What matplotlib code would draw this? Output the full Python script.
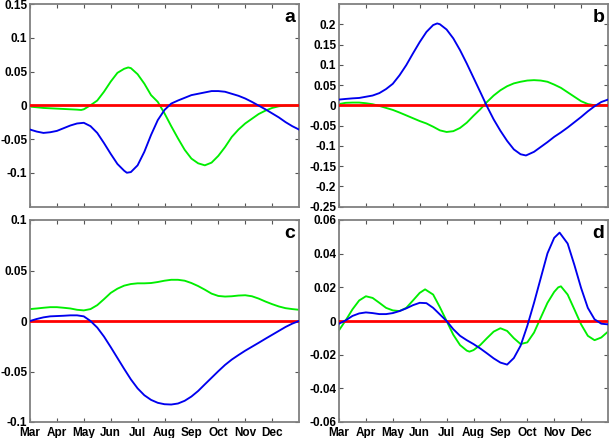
import matplotlib
matplotlib.use("Agg")
import matplotlib.pyplot as plt

plt.rcParams['font.family'] = ['Liberation Sans', 'DejaVu Sans']

months = ['Mar', 'Apr', 'May', 'Jun', 'Jul', 'Aug', 'Sep', 'Oct', 'Nov', 'Dec']

# Panel a
a_green_x = [0, 0.25, 0.5, 0.75, 1, 1.25, 1.5, 1.75, 1.9, 2, 2.25, 2.5, 2.75, 3, 3.25, 3.5, 3.65, 3.75, 4,
             4.25, 4.5, 4.75, 5, 5.25, 5.5, 5.75, 6, 6.25, 6.5, 6.75, 7, 7.25, 7.5, 7.75, 8, 8.25, 8.5,
             8.75, 9, 9.25, 9.5, 10]
a_green_y = [-0.002, -0.003, -0.004, -0.0045, -0.005, -0.0055, -0.006, -0.0065, -0.007, -0.006, 0.0, 0.007,
             0.020, 0.035, 0.048, 0.054, 0.056, 0.055, 0.046, 0.032, 0.015, 0.005, -0.012, -0.031, -0.049,
             -0.066, -0.079, -0.086, -0.089, -0.085, -0.075, -0.062, -0.047, -0.036, -0.027, -0.020, -0.013,
             -0.008, -0.004, -0.0015, -0.0005, -0.0005]
a_blue_x = [0, 0.25, 0.5, 0.75, 1, 1.25, 1.5, 1.75, 2, 2.25, 2.5, 2.75, 3, 3.25, 3.5, 3.6, 3.75, 4, 4.25,
            4.5, 4.75, 5, 5.25, 5.5, 5.75, 6, 6.25, 6.5, 6.75, 7, 7.25, 7.5, 7.75, 8, 8.25, 8.5, 8.75, 9,
            9.25, 9.5, 9.75, 10]
a_blue_y = [-0.036, -0.039, -0.041, -0.040, -0.038, -0.034, -0.030, -0.027, -0.026, -0.031, -0.041, -0.056,
            -0.072, -0.087, -0.097, -0.100, -0.099, -0.089, -0.069, -0.044, -0.022, -0.007, 0.0025, 0.007,
            0.011, 0.015, 0.017, 0.019, 0.021, 0.021, 0.020, 0.017, 0.014, 0.010, 0.005, -0.0005, -0.006,
            -0.012, -0.018, -0.025, -0.031, -0.036]

# Panel b
b_blue_x = [0, 0.25, 0.5, 0.75, 1, 1.25, 1.5, 1.75, 2, 2.25, 2.5, 2.75, 3, 3.25, 3.5, 3.65, 3.75, 4, 4.25,
            4.5, 4.75, 5, 5.25, 5.5, 5.75, 6, 6.25, 6.5, 6.75, 6.95, 7.25, 7.5, 7.75, 8, 8.25, 8.5, 8.75, 9,
            9.25, 9.5, 9.75, 10]
b_blue_y = [0.014, 0.0156, 0.017, 0.018, 0.021, 0.024, 0.030, 0.040, 0.053, 0.074, 0.099, 0.128, 0.156,
            0.181, 0.198, 0.202, 0.200, 0.187, 0.165, 0.136, 0.103, 0.068, 0.033, -0.0025, -0.035, -0.063,
            -0.088, -0.109, -0.121, -0.124, -0.115, -0.103, -0.091, -0.078, -0.067, -0.055, -0.042, -0.029,
            -0.015, -0.0025, 0.008, 0.014]
b_green_x = [0, 0.25, 0.5, 0.75, 1, 1.25, 1.5, 1.75, 2, 2.25, 2.5, 2.75, 3, 3.25, 3.5, 3.75, 4, 4.25, 4.5,
             4.75, 5, 5.25, 5.5, 5.75, 6, 6.25, 6.5, 6.75, 7, 7.25, 7.5, 7.75, 8, 8.25, 8.5, 8.75, 9, 9.25,
             9.5, 10]
b_green_y = [0.003, 0.006, 0.0066, 0.0066, 0.005, 0.0025, -0.0016, -0.0066, -0.0115, -0.018, -0.025,
             -0.032, -0.039, -0.045, -0.053, -0.062, -0.066, -0.064, -0.056, -0.043, -0.026, -0.010, 0.008,
             0.024, 0.037, 0.047, 0.054, 0.058, 0.061, 0.062, 0.061, 0.058, 0.051, 0.043, 0.032, 0.021,
             0.010, 0.003, 0.0, 0.0]

# Panel c
c_green_x = [0, 0.25, 0.5, 0.75, 1, 1.25, 1.5, 1.75, 2, 2.25, 2.5, 2.75, 3, 3.25, 3.5, 3.75, 4, 4.25, 4.5,
             4.75, 5, 5.25, 5.5, 5.75, 6, 6.25, 6.5, 6.75, 7, 7.25, 7.5, 7.75, 8, 8.25, 8.5, 8.75, 9, 9.25,
             9.5, 9.75, 10]
c_green_y = [0.0118, 0.0124, 0.0131, 0.0137, 0.0137, 0.0131, 0.0124, 0.0111, 0.0105, 0.0118, 0.0157,
             0.0216, 0.0278, 0.032, 0.035, 0.0366, 0.0373, 0.0373, 0.0376, 0.0386, 0.0399, 0.0408, 0.0408,
             0.0399, 0.0376, 0.0346, 0.031, 0.0271, 0.0248, 0.0242, 0.0245, 0.0252, 0.0255, 0.0245, 0.0222,
             0.0193, 0.0167, 0.0144, 0.0127, 0.0118, 0.0111]
c_blue_x = [0, 0.25, 0.5, 0.75, 1, 1.25, 1.5, 1.75, 2, 2.25, 2.5, 2.75, 3, 3.25, 3.5, 3.75, 4, 4.25, 4.5,
            4.75, 5, 5.25, 5.5, 5.75, 6, 6.25, 6.5, 6.75, 7, 7.25, 7.5, 7.75, 8, 8.25, 8.5, 8.75, 9, 9.25,
            9.5, 9.75, 10]
c_blue_y = [0.0, 0.002, 0.0036, 0.0046, 0.0049, 0.0052, 0.0056, 0.0056, 0.0046, 0.0, -0.0065, -0.0154,
            -0.0258, -0.0366, -0.0474, -0.0578, -0.0667, -0.0735, -0.0781, -0.081, -0.0824, -0.0827,
            -0.0817, -0.079, -0.0748, -0.0693, -0.0627, -0.0562, -0.0497, -0.0435, -0.0382, -0.0337,
            -0.0294, -0.0255, -0.0216, -0.0176, -0.0137, -0.0098, -0.0059, -0.0026, 0.0]

# Panel d
d_green_x = [0, 0.25, 0.5, 0.75, 1, 1.25, 1.5, 1.75, 2, 2.25, 2.5, 2.75, 3, 3.2, 3.5, 3.75, 4, 4.25, 4.5,
             4.75, 4.85, 5, 5.25, 5.5, 5.75, 6, 6.25, 6.5, 6.75, 7, 7.25, 7.5, 7.75, 8, 8.15, 8.25, 8.5,
             8.75, 9, 9.25, 9.5, 9.75, 10]
d_green_y = [-0.0055, 0.0004, 0.0069, 0.0122, 0.0147, 0.0137, 0.0108, 0.0078, 0.0063, 0.0059, 0.0078,
             0.0122, 0.0167, 0.0188, 0.0157, 0.0082, 0.0, -0.0082, -0.0143, -0.0176, -0.0182, -0.0173,
             -0.0143, -0.0102, -0.0063, -0.0043, -0.0059, -0.0102, -0.0137, -0.0127, -0.0069, 0.002, 0.0108,
             0.0173, 0.0200, 0.0206, 0.0157, 0.0069, -0.002, -0.0088, -0.0114, -0.0098, -0.0063]
d_blue_x = [0, 0.25, 0.5, 0.75, 1, 1.25, 1.5, 1.75, 2, 2.25, 2.5, 2.75, 3, 3.25, 3.5, 3.75, 4, 4.25, 4.5,
            4.75, 5, 5.25, 5.5, 5.75, 6, 6.25, 6.5, 6.75, 7, 7.25, 7.5, 7.75, 8, 8.2, 8.5, 8.75, 9, 9.25,
            9.5, 9.75, 10]
d_blue_y = [-0.0016, 0.0004, 0.003, 0.0045, 0.0051, 0.0047, 0.0041, 0.0041, 0.0047, 0.0059, 0.0075, 0.0094,
            0.0108, 0.0106, 0.0078, 0.0039, 0.0, -0.0049, -0.0088, -0.0114, -0.0137, -0.0163, -0.0192,
            -0.0222, -0.0247, -0.0259, -0.022, -0.0147, -0.0029, 0.0108, 0.0255, 0.0402, 0.0494, 0.0525,
            0.046, 0.0333, 0.0196, 0.0078, 0.001, -0.0016, -0.002]

panels = [
    ('a', a_green_x, a_green_y, a_blue_x, a_blue_y, (-0.15, 0.15),
     [-0.1, -0.05, 0, 0.05, 0.1, 0.15], ['-0.1', '-0.05', '0', '0.05', '0.1', '0.15']),
    ('b', b_green_x, b_green_y, b_blue_x, b_blue_y, (-0.25, 0.25),
     [-0.25, -0.2, -0.15, -0.1, -0.05, 0, 0.05, 0.1, 0.15, 0.2],
     ['-0.25', '-0.2', '-0.15', '-0.1', '-0.05', '0', '0.05', '0.1', '0.15', '0.2']),
    ('c', c_green_x, c_green_y, c_blue_x, c_blue_y, (-0.1, 0.1),
     [-0.1, -0.05, 0, 0.05, 0.1], ['-0.1', '-0.05', '0', '0.05', '0.1']),
    ('d', d_green_x, d_green_y, d_blue_x, d_blue_y, (-0.06, 0.06),
     [-0.06, -0.04, -0.02, 0, 0.02, 0.04, 0.06], ['-0.06', '-0.04', '-0.02', '0', '0.02', '0.04', '0.06']),
]

positions = [
    [30 / 610, 1 - 206.5 / 438, 269 / 610, 202.5 / 438],
    [339 / 610, 1 - 206.5 / 438, 269 / 610, 202.5 / 438],
    [30 / 610, 1 - 422 / 438, 269 / 610, 202 / 438],
    [339 / 610, 1 - 422 / 438, 269 / 610, 202 / 438],
]

fig = plt.figure(figsize=(6.10, 4.38), dpi=100)
for i, (lab, gx, gy, bx, by, ylim, yt, ytl) in enumerate(panels):
    ax = fig.add_axes(positions[i])
    ax.axhline(0, color='#ff0000', lw=2.0, zorder=3)
    ax.plot(gx, gy, color='#00ee00', lw=1.35, zorder=2, solid_joinstyle='round')
    ax.plot(bx, by, color='#0000ee', lw=1.35, zorder=4, solid_joinstyle='round')
    ax.set_xlim(0, 10)
    ax.set_ylim(*ylim)
    ax.set_yticks(yt)
    ax.set_yticklabels(ytl, fontsize=8.5, fontweight='bold')
    ax.set_xticks(range(10))
    if i >= 2:
        ax.set_xticklabels(months, fontsize=8.5, fontweight='bold')
    else:
        ax.set_xticklabels([])
    ax.tick_params(direction='in', length=3, width=0.8, color='#555555', top=True, right=True)
    ax.tick_params(axis='y', pad=2)
    ax.tick_params(axis='x', pad=3.5)
    for s in ax.spines.values():
        s.set_color('#808080')
        s.set_linewidth(1.3)
    ax.text(0.965, 0.935, lab, transform=ax.transAxes, ha='center', va='center',
            fontsize=14, fontweight='bold')

fig.savefig('out.png', dpi=100)
